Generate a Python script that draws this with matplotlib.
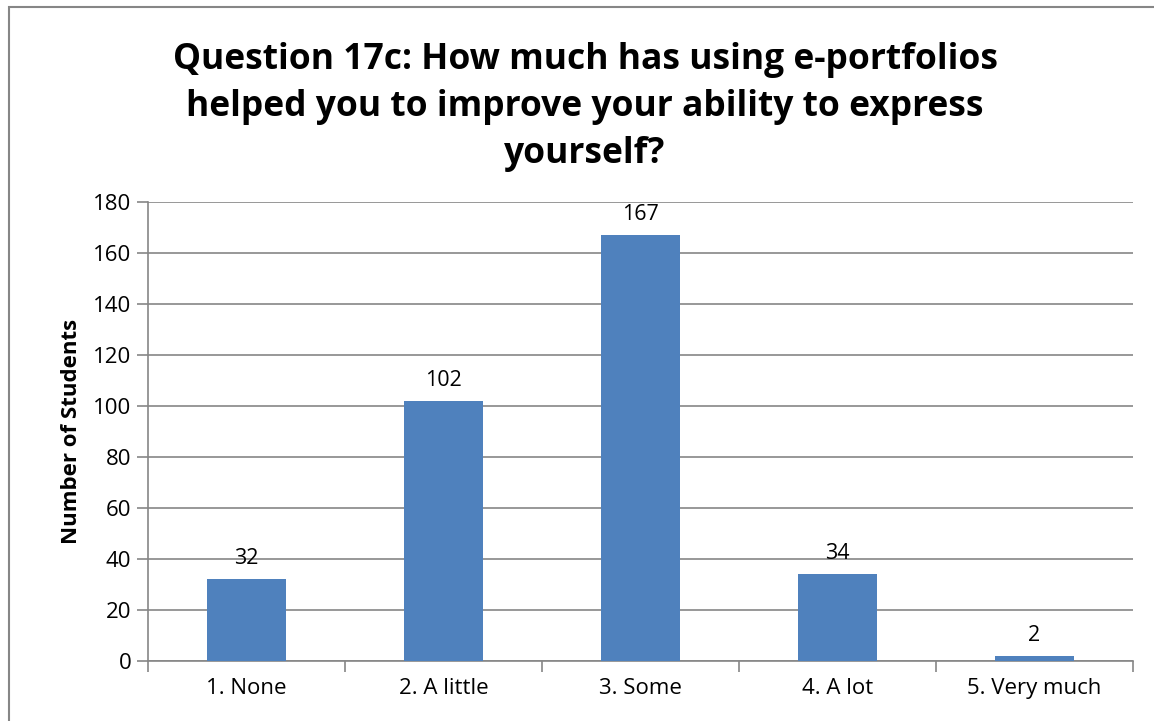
import matplotlib.pyplot as plt
from matplotlib.patches import Rectangle

categories = ['1. None', '2. A little', '3. Some', '4. A lot', '5. Very much']
students = [32, 102, 167, 34, 2]

plt.rcParams['font.family'] = ['Open Sans', 'DejaVu Sans']

fig = plt.figure(figsize=(11.54, 7.21), dpi=100)
ax = fig.add_axes([148 / 1154, 1 - 661 / 721, (1133 - 148) / 1154, (661 - 202) / 721])

x = range(len(categories))
bars = ax.bar(x, students, width=0.4, color='#4F81BD', zorder=3)
for xi, v in zip(x, students):
    ax.text(xi, v + 4, str(v), ha='center', va='bottom', fontsize=15.5)

ax.set_xlim(-0.5, len(categories) - 0.5)
ax.set_ylim(0, 180)
ax.set_yticks(range(0, 181, 20))
ax.yaxis.grid(True, color='#868686', linewidth=1.2, zorder=0)

ax.set_xticks(x)
ax.set_xticklabels(categories, fontsize=16)
ax.set_xticks([i - 0.5 for i in range(len(categories) + 1)], minor=True)
ax.tick_params(axis='x', which='major', length=0, pad=12)
ax.tick_params(axis='x', which='minor', length=8, width=1.2, color='#868686', direction='out')
ax.tick_params(axis='y', length=8, width=1.2, color='#868686', labelsize=16, pad=4)

for side in ['top', 'right']:
    ax.spines[side].set_visible(False)
for side in ['left', 'bottom']:
    ax.spines[side].set_color('#868686')
    ax.spines[side].set_linewidth(1.2)

ax.set_ylabel('Number of Students', fontsize=16, fontweight='bold', labelpad=8)

fig.text(0.507, 1 - 107 / 721,
         'Question 17c: How much has using e-portfolios\nhelped you to improve your ability to express\nyourself?',
         ha='center', va='center', fontsize=25.5, fontweight='bold', linespacing=1.4)

fig.patches.append(Rectangle((8.5 / 1154, -0.01), 1.0, 1 - 7 / 721 + 0.01,
                             transform=fig.transFigure, fill=False,
                             edgecolor='#868686', linewidth=1.5))

fig.savefig('out.png', dpi=100)
